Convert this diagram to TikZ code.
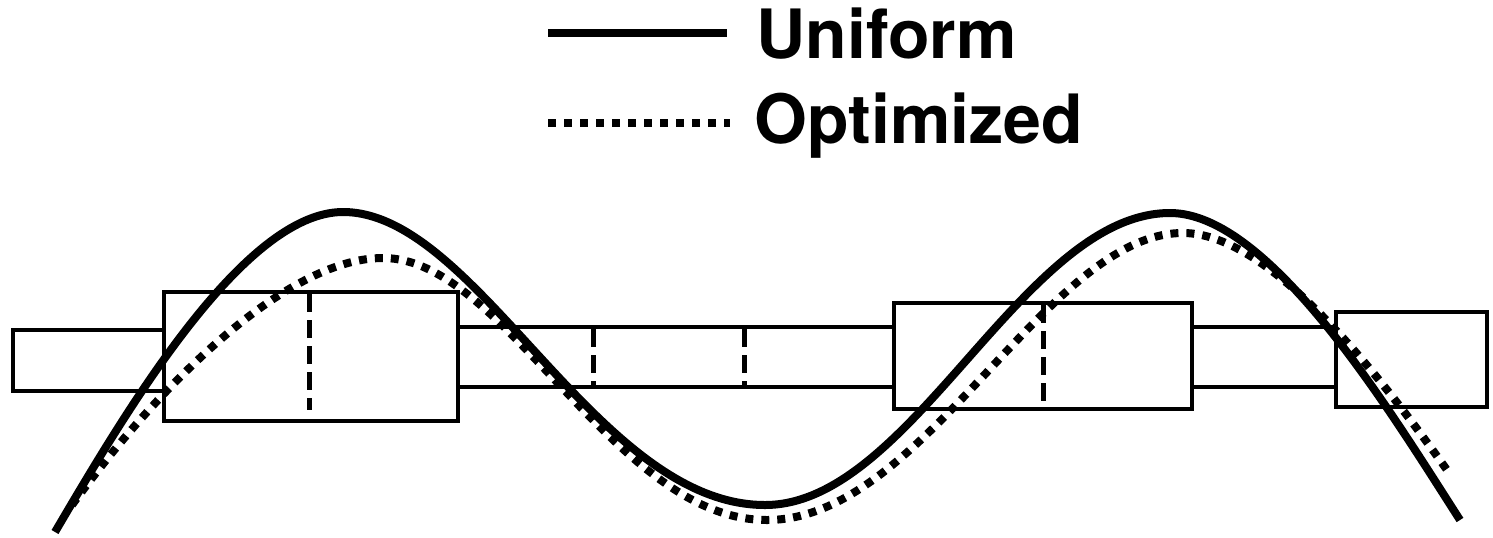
\documentclass[tikz,border=0pt]{standalone}
\usepackage{fontspec}
\setmainfont{TeX Gyre Heros}
\begin{document}
\begin{tikzpicture}[x=0.5pt,y=-0.5pt,
  boxline/.style={line width=2pt},
  cutline/.style={line width=2.5pt,dash pattern=on 9pt off 4pt},
  uniform/.style={line width=4pt},
  optimized/.style={line width=4pt,dash pattern=on 4pt off 4pt},
  legendtext/.style={font=\fontsize{34}{38}\selectfont\bfseries,inner sep=0pt,anchor=base west}]
\useasboundingbox (0,0) rectangle (1493,537);
% shaft and boxes
\draw[boxline] (13,330) rectangle (164,391);
\draw[boxline] (164,292) rectangle (458,421);
\draw[boxline] (458,327) -- (894,327);
\draw[boxline] (458,387) -- (894,387);
\draw[boxline] (894,303) rectangle (1192,409);
\draw[boxline] (1192,327) -- (1336,327);
\draw[boxline] (1192,387) -- (1336,387);
\draw[boxline] (1336,312) rectangle (1487,407);
% cut lines
\draw[cutline] (309,294) -- (309,410);
\draw[cutline] (593,329) -- (593,385);
\draw[cutline] (744,329) -- (744,385);
\draw[cutline] (1043,305) -- (1043,402);
% curves
\draw[uniform] (55,532) .. controls (125,413) and (243,212) .. (343,212)
  .. controls (478,212) and (596,505) .. (765,505)
  .. controls (912,505) and (1023,213) .. (1170,213)
  .. controls (1270,213) and (1390,411) .. (1460,520);
\draw[optimized] (72,505) .. controls (152,394) and (283,258) .. (383,258)
  .. controls (506,258) and (613,520) .. (767,520)
  .. controls (925,520) and (1046,233) .. (1183,233)
  .. controls (1273,233) and (1387,386) .. (1447,470);
% legend
\coordinate (ua) at (548,33);
\coordinate (ub) at (727,33);
\draw[uniform] (ua) -- (ub);
\node[legendtext] (ulabel) at (756,58) {Uniform};
\coordinate (oa) at (548,123);
\coordinate (ob) at (730,123);
\draw[optimized] (oa) -- (ob);
\node[legendtext] (olabel) at (754,143) {Optimized};
\end{tikzpicture}
\end{document}
